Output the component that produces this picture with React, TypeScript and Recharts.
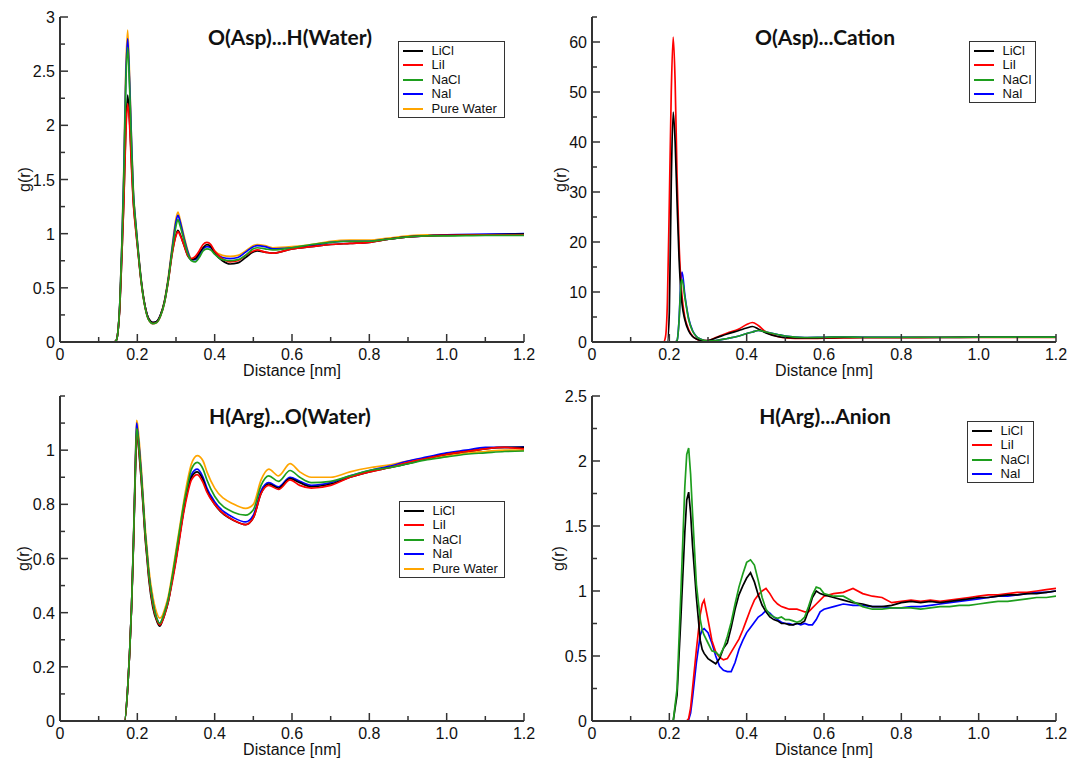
import React from 'react';
import { LineChart, Line, XAxis, YAxis } from 'recharts';

const FONT = '"Liberation Sans", Arial, Helvetica, sans-serif';
const TITLE_FONT = 'Lato, "Open Sans", sans-serif';
const AXIS_COLOR = '#333333';
const TEXT_COLOR = '#111111';

// ---------- ticks ----------
const X_TICKS = [0, 0.1, 0.2, 0.3, 0.4, 0.5, 0.6, 0.7, 0.8, 0.9, 1.0, 1.1, 1.2];
const X_TICK_LABELS = ['0', '', '0.2', '', '0.4', '', '0.6', '', '0.8', '', '1.0', '', '1.2'];

const A_Y_TICKS = [0, 0.25, 0.5, 0.75, 1, 1.25, 1.5, 1.75, 2, 2.25, 2.5, 2.75, 3];
const A_Y_TICK_LABELS = ['0', '', '0.5', '', '1', '', '1.5', '', '2', '', '2.5', '', '3'];
const B_Y_TICKS = [0, 5, 10, 15, 20, 25, 30, 35, 40, 45, 50, 55, 60, 65];
const B_Y_TICK_LABELS = ['0', '', '10', '', '20', '', '30', '', '40', '', '50', '', '60', ''];
const C_Y_TICKS = [0, 0.1, 0.2, 0.3, 0.4, 0.5, 0.6, 0.7, 0.8, 0.9, 1.0, 1.1, 1.2];
const C_Y_TICK_LABELS = ['0', '', '0.2', '', '0.4', '', '0.6', '', '0.8', '', '1', '', ''];
const D_Y_TICKS = [0, 0.25, 0.5, 0.75, 1, 1.25, 1.5, 1.75, 2, 2.25, 2.5];
const D_Y_TICK_LABELS = ['0', '', '0.5', '', '1', '', '1.5', '', '2', '', '2.5'];

// ---------- series ----------
const SERIES_KEYS = ['LiCl', 'LiI', 'NaCl', 'NaI', 'Pure'];
const SERIES_NAMES: Record<string, string> = {
  LiCl: 'LiCl',
  LiI: 'LiI',
  NaCl: 'NaCl',
  NaI: 'NaI',
  Pure: 'Pure Water',
};
const SERIES_COLORS: Record<string, string> = {
  LiCl: '#000000',
  LiI: '#ff0000',
  NaCl: '#1e9e1e',
  NaI: '#0000ff',
  Pure: '#ffa500',
};

// ---------- Panel A: O(Asp)...H(Water) ----------
const A_X = [0, 0.14, 0.145, 0.15, 0.155, 0.16, 0.165, 0.17, 0.175, 0.18,
  0.185, 0.19, 0.195, 0.2, 0.21, 0.22, 0.23, 0.24, 0.25, 0.26,
  0.27, 0.28, 0.29, 0.3, 0.305, 0.31, 0.32, 0.33, 0.34, 0.35,
  0.36, 0.37, 0.38, 0.39, 0.4, 0.42, 0.44, 0.46, 0.48, 0.5,
  0.51, 0.53, 0.55, 0.6, 0.65, 0.7, 0.75, 0.8, 0.85, 0.9,
  0.95, 1.0, 1.1, 1.2];
const A_LICL = [0, 0, 0.01, 0.1, 0.35, 0.8, 1.3, 1.95, 2.28, 2.05,
  1.65, 1.28, 1.08, 0.9, 0.56, 0.33, 0.21, 0.18, 0.19, 0.25,
  0.37, 0.57, 0.82, 0.99, 1.03, 1.0, 0.9, 0.8, 0.76, 0.77,
  0.82, 0.87, 0.9, 0.88, 0.82, 0.75, 0.72, 0.73, 0.78, 0.83,
  0.84, 0.83, 0.82, 0.86, 0.88, 0.9, 0.91, 0.92, 0.95, 0.97,
  0.98, 0.985, 0.99, 0.995];
const A_LII = [0, 0, 0.01, 0.1, 0.35, 0.8, 1.28, 1.9, 2.2, 2.0,
  1.6, 1.26, 1.06, 0.89, 0.55, 0.32, 0.2, 0.17, 0.18, 0.24,
  0.36, 0.56, 0.81, 0.98, 1.02, 0.99, 0.9, 0.8, 0.77, 0.79,
  0.84, 0.9, 0.92, 0.9, 0.84, 0.77, 0.74, 0.75, 0.8, 0.84,
  0.85, 0.83, 0.82, 0.86, 0.88, 0.9, 0.91, 0.92, 0.95, 0.97,
  0.98, 0.985, 0.99, 0.99];
const A_NACL = [0, 0, 0.01, 0.1, 0.38, 0.88, 1.5, 2.35, 2.72, 2.35,
  1.8, 1.35, 1.12, 0.92, 0.56, 0.32, 0.2, 0.17, 0.18, 0.24,
  0.36, 0.57, 0.84, 1.07, 1.13, 1.08, 0.95, 0.82, 0.75, 0.74,
  0.78, 0.84, 0.86, 0.85, 0.81, 0.76, 0.75, 0.76, 0.8, 0.86,
  0.87, 0.86, 0.85, 0.87, 0.9, 0.92, 0.93, 0.93, 0.95, 0.97,
  0.98, 0.98, 0.985, 0.985];
const A_NAI = [0, 0, 0.01, 0.1, 0.38, 0.9, 1.55, 2.42, 2.8, 2.4,
  1.85, 1.36, 1.13, 0.93, 0.57, 0.33, 0.21, 0.18, 0.19, 0.25,
  0.37, 0.58, 0.86, 1.11, 1.17, 1.12, 0.97, 0.84, 0.76, 0.76,
  0.8, 0.86, 0.88, 0.87, 0.83, 0.78, 0.77, 0.78, 0.83, 0.88,
  0.89, 0.88, 0.86, 0.87, 0.89, 0.92, 0.93, 0.93, 0.95, 0.97,
  0.98, 0.99, 0.995, 1.0];
const A_PURE = [0, 0, 0.01, 0.1, 0.38, 0.92, 1.6, 2.5, 2.88, 2.45,
  1.85, 1.38, 1.14, 0.94, 0.58, 0.33, 0.21, 0.18, 0.19, 0.25,
  0.38, 0.6, 0.88, 1.14, 1.2, 1.14, 0.99, 0.85, 0.77, 0.77,
  0.81, 0.87, 0.89, 0.88, 0.84, 0.8, 0.79, 0.8, 0.84, 0.89,
  0.9, 0.89, 0.87, 0.88, 0.9, 0.93, 0.94, 0.94, 0.96, 0.98,
  0.99, 0.99, 0.99, 0.99];

// ---------- Panel B: O(Asp)...Cation ----------
const B_X = [0, 0.18, 0.185, 0.19, 0.195, 0.2, 0.205, 0.21, 0.215,
  0.22, 0.225, 0.23, 0.233, 0.24, 0.25, 0.26, 0.27, 0.28, 0.3,
  0.32, 0.35, 0.38, 0.4, 0.415, 0.43, 0.45, 0.48, 0.5, 0.55,
  0.6, 0.65, 0.7, 0.8, 0.9, 1.0, 1.1, 1.2];
const B_LICL = [0, 0, 0, 0, 0, 6, 32, 46, 40,
  28, 17, 10, 7.5, 4.5, 2.2, 1.1, 0.6, 0.35, 0.3,
  0.8, 1.6, 2.3, 2.8, 3.1, 2.6, 1.8, 1.1, 0.9, 0.8,
  0.85, 0.9, 0.9, 0.9, 0.9, 0.95, 0.95, 0.95];
const B_LII = [0, 0, 0, 1, 8, 28, 50, 61, 52,
  33, 20, 12, 9, 5, 2.5, 1.2, 0.6, 0.35, 0.3,
  0.9, 1.8, 2.6, 3.5, 3.9, 3.3, 2.0, 1.1, 0.8, 0.7,
  0.75, 0.8, 0.85, 0.85, 0.9, 0.9, 0.9, 0.9];
const B_NACL = [0, 0, 0, 0, 0, 0, 0, 0, 0,
  0.3, 4, 11.5, 12.5, 9, 4.5, 2.2, 1.1, 0.6, 0.2,
  0.3, 0.7, 1.2, 1.7, 2.0, 2.3, 2.0, 1.5, 1.2, 0.9,
  0.95, 1.0, 0.95, 0.95, 0.95, 0.95, 0.97, 0.97];
const B_NAI = [0, 0, 0, 0, 0, 0, 0, 0, 0,
  0.3, 4.2, 12.5, 14, 9.5, 4.7, 2.3, 1.1, 0.6, 0.2,
  0.3, 0.7, 1.2, 1.7, 2.0, 2.3, 2.0, 1.5, 1.2, 0.9,
  0.95, 1.0, 0.95, 0.95, 0.95, 0.95, 0.97, 0.97];

// ---------- Panel C: H(Arg)...O(Water) ----------
const C_X = [0, 0.16, 0.167, 0.175, 0.18, 0.185, 0.19, 0.195, 0.198, 0.2,
  0.205, 0.21, 0.215, 0.22, 0.225, 0.23, 0.24, 0.25, 0.258, 0.265,
  0.27, 0.28, 0.29, 0.3, 0.31, 0.32, 0.33, 0.34, 0.355, 0.37,
  0.38, 0.4, 0.45, 0.48, 0.5, 0.52, 0.54, 0.565, 0.595, 0.62,
  0.65, 0.7, 0.75, 0.8, 0.85, 0.9, 0.95, 1.0, 1.05, 1.1,
  1.15, 1.2];
const C_LICL = [0, 0, 0, 0.12, 0.25, 0.42, 0.65, 0.92, 1.06, 1.05,
  0.98, 0.89, 0.79, 0.68, 0.6, 0.52, 0.42, 0.37, 0.35, 0.37,
  0.39, 0.44, 0.52, 0.6, 0.69, 0.78, 0.85, 0.9, 0.92, 0.89,
  0.85, 0.8, 0.74, 0.725, 0.75, 0.84, 0.875, 0.86, 0.895, 0.88,
  0.865, 0.875, 0.9, 0.92, 0.935, 0.95, 0.97, 0.985, 0.995, 1.005,
  1.01, 1.01];
const C_LII = [0, 0, 0, 0.12, 0.25, 0.42, 0.65, 0.93, 1.07, 1.06,
  0.99, 0.9, 0.8, 0.69, 0.61, 0.53, 0.43, 0.375, 0.355, 0.37,
  0.39, 0.44, 0.51, 0.59, 0.68, 0.77, 0.84, 0.89, 0.91, 0.88,
  0.845, 0.8, 0.74, 0.725, 0.75, 0.84, 0.87, 0.855, 0.89, 0.87,
  0.86, 0.87, 0.9, 0.92, 0.935, 0.955, 0.97, 0.985, 0.995, 1.005,
  1.01, 1.005];
const C_NACL = [0, 0, 0, 0.12, 0.25, 0.42, 0.66, 0.94, 1.08, 1.07,
  1.0, 0.91, 0.81, 0.7, 0.62, 0.54, 0.44, 0.38, 0.36, 0.38,
  0.4, 0.45, 0.53, 0.62, 0.71, 0.8, 0.87, 0.93, 0.955, 0.93,
  0.89, 0.83, 0.77, 0.76, 0.78, 0.87, 0.905, 0.885, 0.925, 0.9,
  0.88, 0.885, 0.905, 0.925, 0.935, 0.95, 0.965, 0.975, 0.985, 0.99,
  0.995, 0.997];
const C_NAI = [0, 0, 0, 0.12, 0.25, 0.42, 0.66, 0.95, 1.1, 1.08,
  1.01, 0.92, 0.81, 0.7, 0.62, 0.54, 0.44, 0.38, 0.36, 0.375,
  0.395, 0.445, 0.52, 0.6, 0.69, 0.78, 0.86, 0.91, 0.93, 0.9,
  0.86, 0.81, 0.75, 0.735, 0.76, 0.85, 0.88, 0.865, 0.9, 0.885,
  0.87, 0.88, 0.905, 0.925, 0.94, 0.96, 0.975, 0.99, 1.0, 1.01,
  1.01, 1.012];
const C_PURE = [0, 0, 0, 0.12, 0.25, 0.42, 0.67, 0.96, 1.11, 1.1,
  1.03, 0.94, 0.83, 0.72, 0.64, 0.56, 0.46, 0.4, 0.38, 0.39,
  0.41, 0.46, 0.54, 0.63, 0.72, 0.81, 0.89, 0.95, 0.98, 0.96,
  0.92, 0.86, 0.8, 0.785, 0.8, 0.89, 0.93, 0.905, 0.95, 0.92,
  0.9, 0.9, 0.92, 0.935, 0.945, 0.96, 0.97, 0.98, 0.99, 0.995,
  1.0, 1.0];

// ---------- Panel D: H(Arg)...Anion ----------
const D_X = [0, 0.2, 0.21, 0.22, 0.23, 0.24, 0.245, 0.25, 0.255, 0.26,
  0.27, 0.28, 0.285, 0.29, 0.3, 0.31, 0.32, 0.33, 0.34, 0.35,
  0.36, 0.37, 0.38, 0.39, 0.4, 0.41, 0.42, 0.43, 0.44, 0.45,
  0.46, 0.47, 0.48, 0.49, 0.5, 0.51, 0.52, 0.53, 0.54, 0.55,
  0.56, 0.57, 0.58, 0.59, 0.6, 0.625, 0.65, 0.675, 0.7, 0.725,
  0.75, 0.775, 0.8, 0.825, 0.85, 0.875, 0.9, 0.925, 0.95, 0.975,
  1.0, 1.025, 1.05, 1.075, 1.1, 1.125, 1.15, 1.175, 1.2];
const D_LICL = [0, 0, 0, 0.2, 0.8, 1.45, 1.7, 1.76, 1.6, 1.35,
  0.95, 0.62, 0.55, 0.52, 0.48, 0.46, 0.44, 0.48, 0.56, 0.6,
  0.72, 0.86, 0.97, 1.04, 1.1, 1.14, 1.07, 0.97, 0.89, 0.84,
  0.8, 0.78, 0.77, 0.75, 0.75, 0.74, 0.74, 0.75, 0.75, 0.77,
  0.85, 0.95, 1.0, 0.98, 0.97, 0.95, 0.93, 0.91, 0.9, 0.88,
  0.88, 0.89, 0.91, 0.92, 0.91, 0.92, 0.91, 0.92, 0.93, 0.94,
  0.95, 0.95, 0.96, 0.97, 0.97, 0.98, 0.98, 0.99, 1.0];
const D_LII = [0, 0, 0, 0, 0, 0, 0, 0.02, 0.1, 0.25,
  0.55, 0.82, 0.9, 0.93, 0.78, 0.62, 0.53, 0.49, 0.47, 0.48,
  0.53, 0.58, 0.63, 0.7, 0.78, 0.86, 0.93, 0.97, 1.0, 1.02,
  0.98, 0.93, 0.9, 0.88, 0.87, 0.86, 0.86, 0.86, 0.85, 0.84,
  0.84, 0.87, 0.9, 0.93, 0.96, 0.98, 0.99, 1.02, 0.98, 0.96,
  0.95, 0.91, 0.92, 0.93, 0.92, 0.93, 0.92, 0.93, 0.94, 0.95,
  0.96, 0.97, 0.97, 0.98, 0.99, 0.99, 1.0, 1.01, 1.02];
const D_NACL = [0, 0, 0, 0.25, 1.0, 1.8, 2.05, 2.1, 1.9, 1.6,
  1.05, 0.78, 0.7, 0.66, 0.6, 0.54, 0.53, 0.5, 0.56, 0.65,
  0.76, 0.9, 1.03, 1.13, 1.22, 1.24, 1.2, 1.08, 0.95, 0.86,
  0.82, 0.8, 0.79, 0.8, 0.78, 0.78, 0.77, 0.76, 0.77, 0.8,
  0.88, 0.97, 1.03, 1.02, 0.98, 0.96, 0.96, 0.92, 0.88, 0.86,
  0.86, 0.87, 0.87, 0.87, 0.86, 0.87, 0.88, 0.88, 0.89, 0.89,
  0.9, 0.91, 0.92, 0.92, 0.93, 0.94, 0.95, 0.95, 0.96];
const D_NAI = [0, 0, 0, 0, 0, 0, 0, 0.01, 0.06, 0.18,
  0.45, 0.66, 0.7, 0.71, 0.68, 0.6, 0.5, 0.42, 0.39, 0.38,
  0.38, 0.45, 0.55, 0.62, 0.68, 0.72, 0.76, 0.8, 0.82, 0.85,
  0.83, 0.8, 0.78, 0.76, 0.75, 0.75, 0.74, 0.75, 0.74, 0.75,
  0.74, 0.74, 0.78, 0.84, 0.86, 0.88, 0.9, 0.89, 0.89, 0.88,
  0.88, 0.87, 0.87, 0.88, 0.88, 0.89, 0.9, 0.91, 0.92, 0.93,
  0.94, 0.95, 0.96, 0.96, 0.97, 0.98, 0.99, 0.99, 1.0];

// ---------- helpers ----------
function buildRows(xs: number[], cols: Record<string, number[]>) {
  return xs.map((x, i) => {
    const row: Record<string, number> = { x };
    Object.keys(cols).forEach((k) => {
      row[k] = cols[k][i];
    });
    return row;
  });
}

function findLabel(ticks: number[], labels: string[], v: number) {
  const idx = ticks.findIndex((t) => Math.abs(t - v) < 1e-6);
  return idx >= 0 ? labels[idx] : '';
}

const renderXTick = (props: any) => {
  const { x, y, payload } = props;
  const label = findLabel(X_TICKS, X_TICK_LABELS, payload.value);
  const major = label !== '';
  return (
    <g>
      <line x1={x} x2={x} y1={y} y2={y - (major ? 8 : 5)} stroke={AXIS_COLOR} strokeWidth={1.5} />
      {major && (
        <text x={x} y={y + 18} textAnchor="middle" fontSize={16} fontFamily={FONT} fill={TEXT_COLOR}>
          {label}
        </text>
      )}
    </g>
  );
};

const makeYTick = (ticks: number[], labels: string[]) => (props: any) => {
  const { x, y, payload } = props;
  const label = findLabel(ticks, labels, payload.value);
  const major = label !== '';
  return (
    <g>
      <line x1={x} x2={x + (major ? 8 : 5)} y1={y} y2={y} stroke={AXIS_COLOR} strokeWidth={1.5} />
      {major && (
        <text x={x - 5} y={y + 6} textAnchor="end" fontSize={16} fontFamily={FONT} fill={TEXT_COLOR}>
          {label}
        </text>
      )}
    </g>
  );
};

const renderXLabel = (props: any) => {
  const vb = props.viewBox || {};
  return (
    <text x={vb.x + vb.width / 2} y={vb.y + 34} textAnchor="middle" fontSize={16} fontFamily={FONT} fill={TEXT_COLOR}>
      Distance [nm]
    </text>
  );
};

const makeYLabel = (dx: number) => (props: any) => {
  const vb = props.viewBox || {};
  const cx = vb.x + vb.width + dx;
  const cy = vb.y + vb.height / 2;
  return (
    <text
      x={cx}
      y={cy}
      transform={`rotate(-90 ${cx} ${cy})`}
      textAnchor="middle"
      dominantBaseline="central"
      fontSize={16}
      fontFamily={FONT}
      fill={TEXT_COLOR}
    >
      g(r)
    </text>
  );
};

type PanelProps = {
  left: number;
  top: number;
  width: number;
  height: number;
  marginRight: number;
  rows: Record<string, number>[];
  yDomain: [number, number];
  yTicks: number[];
  yTickLabels: string[];
  yLabelDx: number;
  drawOrder: string[];
  curve: 'monotone' | 'linear';
};

function Panel(p: PanelProps) {
  const axisLine = { stroke: AXIS_COLOR, strokeWidth: 2 };
  return (
    <div style={{ position: 'absolute', left: p.left, top: p.top }}>
      <LineChart
        width={p.width}
        height={p.height}
        data={p.rows}
        margin={{ top: 17, right: p.marginRight, bottom: 0, left: 0 }}
      >
        <XAxis
          dataKey="x"
          type="number"
          domain={[0, 1.2]}
          ticks={X_TICKS}
          interval={0}
          allowDataOverflow
          height={38}
          tickSize={0}
          tickMargin={0}
          tickLine={false}
          axisLine={axisLine}
          tick={renderXTick}
          label={renderXLabel}
        />
        <XAxis
          xAxisId="top"
          orientation="top"
          dataKey="x"
          type="number"
          domain={[0, 1.2]}
          height={0}
          tick={false}
          tickLine={false}
          axisLine={axisLine}
        />
        <YAxis
          type="number"
          domain={p.yDomain}
          ticks={p.yTicks}
          interval={0}
          allowDataOverflow
          width={60}
          tickSize={0}
          tickMargin={0}
          tickLine={false}
          axisLine={axisLine}
          tick={makeYTick(p.yTicks, p.yTickLabels)}
          label={makeYLabel(p.yLabelDx)}
        />
        <YAxis
          yAxisId="right"
          orientation="right"
          type="number"
          domain={p.yDomain}
          width={0}
          tick={false}
          tickLine={false}
          axisLine={axisLine}
        />
        {p.drawOrder.map((k) => (
          <Line
            key={k}
            dataKey={k}
            name={SERIES_NAMES[k]}
            type={p.curve}
            stroke={SERIES_COLORS[k]}
            strokeWidth={1.7}
            dot={false}
            activeDot={false}
            isAnimationActive={false}
          />
        ))}
      </LineChart>
    </div>
  );
}

function Title({ cx, cy, text }: { cx: number; cy: number; text: string }) {
  return (
    <div
      style={{
        position: 'absolute',
        left: cx - 150,
        top: cy - 13,
        width: 300,
        height: 26,
        lineHeight: '26px',
        textAlign: 'center',
        fontFamily: TITLE_FONT,
        fontWeight: 700,
        fontSize: 21,
        color: '#111',
        whiteSpace: 'nowrap',
      }}
    >
      {text}
    </div>
  );
}

function LegendBox({ left, top, width, height, keys }: { left: number; top: number; width: number; height: number; keys: string[] }) {
  return (
    <div
      style={{
        position: 'absolute',
        left,
        top,
        width,
        height,
        border: `1.5px solid ${AXIS_COLOR}`,
        boxSizing: 'border-box',
        background: '#fff',
      }}
    >
      {keys.map((k, i) => (
        <div
          key={k}
          style={{
            position: 'absolute',
            left: 3.5,
            top: 1.5 + i * 14.5,
            height: 14,
            display: 'flex',
            alignItems: 'center',
            whiteSpace: 'nowrap',
          }}
        >
          <div style={{ width: 20, height: 0, borderTop: `2px solid ${SERIES_COLORS[k]}` }} />
          <span style={{ marginLeft: 9, fontSize: 13, fontFamily: FONT, lineHeight: '14px', color: '#111' }}>
            {SERIES_NAMES[k]}
          </span>
        </div>
      ))}
    </div>
  );
}

export default function App() {
  const rowsA = buildRows(A_X, { LiCl: A_LICL, LiI: A_LII, NaCl: A_NACL, NaI: A_NAI, Pure: A_PURE });
  const rowsB = buildRows(B_X, { LiCl: B_LICL, LiI: B_LII, NaCl: B_NACL, NaI: B_NAI });
  const rowsC = buildRows(C_X, { LiCl: C_LICL, LiI: C_LII, NaCl: C_NACL, NaI: C_NAI, Pure: C_PURE });
  const rowsD = buildRows(D_X, { LiCl: D_LICL, LiI: D_LII, NaCl: D_NACL, NaI: D_NAI });

  return (
    <div
      style={{
        position: 'absolute',
        left: 0,
        top: 0,
        width: 1071,
        height: 758,
        overflow: 'hidden',
        background: '#ffffff',
      }}
    >
      <Panel
        left={0}
        top={0}
        width={540}
        height={380}
        marginRight={16}
        rows={rowsA}
        yDomain={[0, 3]}
        yTicks={A_Y_TICKS}
        yTickLabels={A_Y_TICK_LABELS}
        yLabelDx={-36}
        drawOrder={['Pure', 'NaI', 'LiCl', 'LiI', 'NaCl']}
        curve="monotone"
      />
      <Panel
        left={532}
        top={0}
        width={539}
        height={380}
        marginRight={15}
        rows={rowsB}
        yDomain={[0, 65]}
        yTicks={B_Y_TICKS}
        yTickLabels={B_Y_TICK_LABELS}
        yLabelDx={-32}
        drawOrder={['NaI', 'LiI', 'LiCl', 'NaCl']}
        curve="monotone"
      />
      <Panel
        left={0}
        top={379}
        width={540}
        height={380}
        marginRight={16}
        rows={rowsC}
        yDomain={[0, 1.2]}
        yTicks={C_Y_TICKS}
        yTickLabels={C_Y_TICK_LABELS}
        yLabelDx={-37}
        drawOrder={['Pure', 'NaI', 'LiCl', 'LiI', 'NaCl']}
        curve="monotone"
      />
      <Panel
        left={532}
        top={379}
        width={539}
        height={380}
        marginRight={15}
        rows={rowsD}
        yDomain={[0, 2.5]}
        yTicks={D_Y_TICKS}
        yTickLabels={D_Y_TICK_LABELS}
        yLabelDx={-34}
        drawOrder={['NaI', 'LiI', 'LiCl', 'NaCl']}
        curve="linear"
      />

      <Title cx={290} cy={37} text="O(Asp)...H(Water)" />
      <Title cx={825} cy={37} text="O(Asp)...Cation" />
      <Title cx={290} cy={416} text="H(Arg)...O(Water)" />
      <Title cx={825} cy={416} text="H(Arg)...Anion" />

      <LegendBox left={398} top={41} width={107} height={77} keys={SERIES_KEYS} />
      <LegendBox left={969} top={41} width={67} height={62} keys={['LiCl', 'LiI', 'NaCl', 'NaI']} />
      <LegendBox left={399} top={501} width={106} height={77} keys={SERIES_KEYS} />
      <LegendBox left={967} top={421} width={67} height={62} keys={['LiCl', 'LiI', 'NaCl', 'NaI']} />
    </div>
  );
}
